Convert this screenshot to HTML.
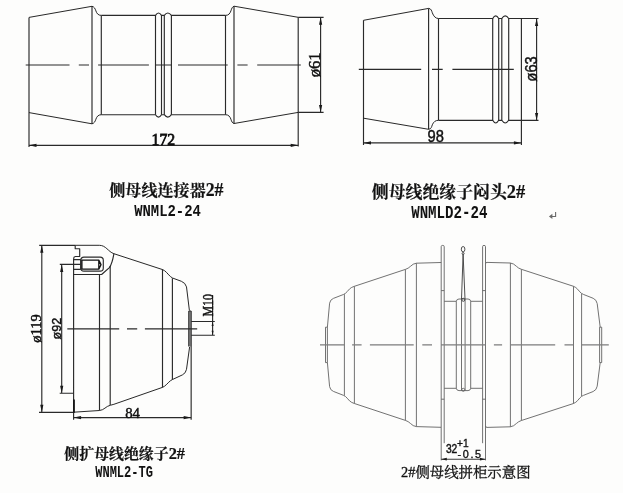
<!DOCTYPE html>
<html lang="zh-CN">
<head>
<meta charset="utf-8">
<title>侧母线连接器 / 绝缘子 尺寸图</title>
<style>
  html, body { margin: 0; padding: 0; background: #fdfdfc; }
  body { width: 623px; height: 493px; overflow: hidden; }
  svg { display: block; will-change: transform; }
  .ln  { fill: none; stroke: #2a2a2a; stroke-width: 1.15; stroke-linecap: butt; stroke-linejoin: round; }
  .ln .lo, .lo { stroke-width: 0.95; stroke: #1c1c1c; }
  .thin { fill: none; stroke: #3a3a3a; stroke-width: 0.8; }
  .lt  { fill: none; stroke: #626262; stroke-width: 0.9; stroke-linejoin: round; }
  .ar  { fill: #1a1a1a; stroke: none; }
  .cjkb { font-family: "Liberation Serif", "Noto Serif CJK SC", serif; font-weight: bold; fill: #111; stroke: #111; stroke-width: 0.2; }
  .cjkr { font-family: "Liberation Serif", "Noto Serif CJK SC", serif; font-weight: normal; fill: #111; stroke: #111; stroke-width: 0.3; }
  .monob { font-family: "Liberation Mono", monospace; font-weight: bold; fill: #111; }
  .sans { font-family: "Liberation Sans", sans-serif; fill: #111; stroke: #111; stroke-width: 0.45; }
  .serif { font-family: "Liberation Serif", serif; fill: #111; stroke: #111; stroke-width: 0.45; }
  .mono { font-family: "Liberation Mono", monospace; fill: #111; stroke: #111; stroke-width: 0.25; }
</style>
</head>
<body>
<svg width="623" height="493" viewBox="0 0 623 493">
  <rect x="0" y="0" width="623" height="493" fill="#fdfdfc"/>

  <!-- ============ 1. top-left : connector 172 ============ -->
  <g id="d1" class="ln">
    <!-- left cone -->
    <path d="M29,147 V17.4 M92,6.3 V123.8"/>
    <path class="lo" d="M29,17.4 L92,6.3 M29,112.6 L92,123.8"/>
    <path class="lo" d="M101.3,15.4 C98.1,15.4 96.7,13.3 95.9,10.9 C95.1,8.5 94,6.6 92,6.3"/>
    <path class="lo" d="M101.3,114.7 C98.1,114.7 96.7,116.8 95.9,119.2 C95.1,121.6 94,123.5 92,123.8"/>
    <!-- body -->
    <path d="M101.3,15.4 V114.7"/>
    <path d="M101.3,15.4 H155.5 Q158.5,10.6 161.5,15.4 H164.3 Q167.8,10.6 171.4,15.4 H225.5"/>
    <path d="M101.3,114.7 H155.5 Q158.5,119.5 161.5,114.7 H164.3 Q167.8,119.5 171.4,114.7 H225.5"/>
    <path d="M155.5,15.4 V114.7 M161.5,15.4 V114.7 M164.3,15.4 V114.7 M171.4,15.4 V114.7"/>
    <path d="M225.5,15.4 V114.7"/>
    <!-- right cone -->
    <path class="lo" d="M225.5,15.4 C228.7,15.4 230.1,13.3 230.9,10.9 C231.7,8.5 232.4,6.6 234,6.2"/>
    <path class="lo" d="M225.5,114.7 C228.7,114.7 230.1,116.8 230.9,119.2 C231.7,121.6 232.4,123.2 234,123.5"/>
    <path d="M234,6.2 V123.5 M298.2,17.3 V146.6"/>
    <path class="lo" d="M234,6.2 L298.2,17.3 M234,123.5 L298.2,112.4"/>
    <!-- dims -->
    <path d="M29,145.35 H298.2"/>
    <path d="M298.2,17.3 H323.6 M298.2,112.4 H323.6 M320.6,17.3 V112.4"/>
    <!-- centre line -->
    <path d="M25.7,65 H69.5 M78.8,65 H89 M98.1,65 H148.9 M155.5,65 H171.4 M178,65 H227.7 M237.4,65 H247.6 M257.2,65 H300.8"/>
  </g>
  <path class="ar" d="M29,145.35 l7.5,-1.6 v3.2 z M298.2,145.35 l-7.5,-1.6 v3.2 z"/>
  <path class="ar" d="M320.6,17.3 l-1.6,7.5 h3.2 z M320.6,112.4 l-1.6,-7.5 h3.2 z"/>
  <text class="serif" x="163.4" y="144.6" font-size="16.8" style="stroke-width:0.8" text-anchor="middle" textLength="23.6" lengthAdjust="spacingAndGlyphs">172</text>
  <text class="serif" transform="translate(320.2,64.8) rotate(-90)" font-size="16" text-anchor="middle" textLength="25" lengthAdjust="spacingAndGlyphs">ø61</text>
  <text class="cjkb" x="166.4" y="195.6" font-size="16.3" text-anchor="middle" textLength="114.2" lengthAdjust="spacingAndGlyphs">侧母线连接器<tspan font-size="18">2#</tspan></text>
  <text class="monob" x="167.5" y="215.5" font-size="17.4" text-anchor="middle" textLength="66.7" lengthAdjust="spacingAndGlyphs">WNML2-24</text>

  <!-- ============ 2. top-right : plug 98 ============ -->
  <g id="d2" class="ln">
    <path d="M363.5,145 V20.3 M428.6,8.4 V129.3"/>
    <path class="lo" d="M363.5,20.3 L428.6,8.4 M363.5,118.2 L428.6,129.3"/>
    <path class="lo" d="M428.6,8.4 C431.2,8.5 431.7,11 432.3,12.8 C433.6,16.2 435.5,18.5 438.5,18.5"/>
    <path class="lo" d="M428.6,129.3 C431.2,129.2 431.7,126.6 432.3,124.8 C433.6,121.8 435.5,120.3 438.5,120.3"/>
    <path d="M438.5,18.5 V120.3"/>
    <path d="M438.5,18.5 H492.7 Q495.7,13.2 498.7,18.5 H501.8 Q505.2,13.2 508.7,18.5 H538.5"/>
    <path d="M438.5,120.3 H492.7 Q495.7,125.6 498.7,120.3 H501.8 Q505.2,125.6 508.7,120.3 H538.5"/>
    <path d="M492.7,18.5 V120.3 M498.7,18.5 V120.3 M501.8,18.5 V120.3 M508.7,18.5 V120.3"/>
    <path d="M521.4,18.5 V145"/>
    <path d="M536.6,18.5 V120.3"/>
    <path d="M363.5,142.9 H521.4"/>
    <path d="M358.8,69.4 H421.2 M432,69.4 H442.7 M452.4,69.4 H513.8"/>
  </g>
  <path class="ar" d="M363.5,142.9 l7.5,-1.6 v3.2 z M521.4,142.9 l-7.5,-1.6 v3.2 z"/>
  <path class="ar" d="M536.6,18.5 l-1.6,7.5 h3.2 z M536.6,120.4 l-1.6,-7.5 h3.2 z"/>
  <text class="sans" x="435.8" y="142.4" font-size="16.6" text-anchor="middle" textLength="16.4" lengthAdjust="spacingAndGlyphs">98</text>
  <text class="sans" transform="translate(536.8,68.9) rotate(-90)" font-size="17.3" text-anchor="middle" textLength="25" lengthAdjust="spacingAndGlyphs">ø63</text>
  <text class="cjkb" x="448.5" y="197.5" font-size="17" text-anchor="middle" textLength="153.4" lengthAdjust="spacingAndGlyphs">侧母线绝缘子闷头<tspan font-size="18.6">2#</tspan></text>
  <text class="monob" x="449.3" y="217.7" font-size="18" text-anchor="middle" textLength="76.2" lengthAdjust="spacingAndGlyphs">WNMLD2-24</text>
  <g aria-label="paragraph mark"><path d="M555.6,211.9 V216.5 H551" fill="none" stroke="#6a6a6a" stroke-width="1.1"/><path d="M548.9,216.5 L552.4,213.8 L552.4,219.1 Z" fill="#6a6a6a"/></g>

  <!-- ============ 3. bottom-left : insulator 84 ============ -->
  <g id="d3" class="ln">
    <!-- outline top -->
    <path d="M39.2,245.3 H75.2"/>
    <path class="lo" d="M75.2,245.3 H99.3 C106,245.3 108,251.6 113.9,253.7 L162.6,269.6 Q164.6,270.4 166.4,272.3 L168.8,274.9 Q170.4,276.8 172.5,278 L181.4,281.3 Q185.4,282.8 186.5,286.9 L189.4,310.5"/>
    <!-- outline bottom -->
    <path d="M39,412.3 H73.6"/>
    <path class="lo" d="M73.6,412.2 L99.5,410.5 C104,410.2 106,406.2 110.2,405.3 L113.9,404.3 L162.4,387.4 Q164.4,386.6 166.2,384.8 L168.8,382.2 Q170.4,380.5 172.5,379.5 L182.4,374.9 Q185.8,373.3 186.5,369.3 L189.6,347"/>
    <!-- plate + stub -->
    <rect x="188.8" y="311" width="2.4" height="35.5" fill="#9a9a9a" stroke="none"/>
    <path d="M188.8,311 V346.5 M191.15,311 V419.7 M188.8,311 H191.15"/>
    <path d="M191.15,321.5 H214.8 M191.15,335.2 H214.8 M212.6,295 V335.2"/>
    <!-- verticals -->
    <path d="M73.6,258.6 V419.7 M99.5,274.5 V410.4 M110.2,266 V405 M162.5,269.2 V387.4 M172.4,278.2 V379.7"/>
    <!-- notch -->
    <path d="M75.2,245.3 V248.7 H79.7 V256.5 H75.4 Q73.6,256.7 73.6,258.8"/>
    <!-- hole -->
    <rect x="80.8" y="257.1" width="22.5" height="14" rx="3.2" ry="3.2"/>
    <path d="M73.6,259.6 H80.8 M73.6,269.3 H80.8 M80.8,259.6 V269.3"/>
    <path d="M73.6,274.5 H101.6 L109.4,267.6 C112,264 113,259 113.9,253.7"/>
    <!-- dims -->
    <path d="M41.8,245.3 V412.3"/>
    <path d="M59.8,264.4 H80.8 M59.7,393.2 H73.6 M61.7,264.4 V393.2"/>
    <path d="M73.6,417.6 H191.15"/>
    <!-- centre line -->
    <path d="M67.3,328.9 H119.2 M127,328.9 H137.2 M144.9,328.9 H197.2"/>
  </g>
  <path d="M81.9,260.1 H98.8 L101,264.6 L98.8,269.2 H81.9 Z M98.8,260.1 V269.2" fill="none" stroke="#111" stroke-width="1.3" stroke-linejoin="round"/>
  <path d="M74,399.6 V412.8" fill="none" stroke="#111" stroke-width="1.7"/>
  <path class="ar" d="M41.8,245.3 l-1.6,7.5 h3.2 z M41.8,412.3 l-1.6,-7.5 h3.2 z"/>
  <path class="ar" d="M61.7,264.4 l-1.6,7.5 h3.2 z M61.7,393.2 l-1.6,-7.5 h3.2 z"/>
  <path class="ar" d="M73.6,417.6 l7.5,-1.6 v3.2 z M191.15,417.6 l-7.5,-1.6 v3.2 z"/>
  <path class="ar" d="M212.6,321.5 l-1,4.4 h2 z M212.6,335.2 l-1,-4.4 h2 z"/>
  <text class="serif" transform="translate(41,328.5) rotate(-90)" font-size="14" text-anchor="middle" textLength="28.4" lengthAdjust="spacingAndGlyphs">ø119</text>
  <text class="sans" transform="translate(60.9,328.7) rotate(-90)" font-size="13" text-anchor="middle" textLength="21.6" lengthAdjust="spacingAndGlyphs">ø92</text>
  <text class="serif" x="132.6" y="417.7" font-size="15.2" text-anchor="middle" textLength="14.8" lengthAdjust="spacingAndGlyphs">84</text>
  <text class="serif" transform="translate(212.5,305.3) rotate(-90)" font-size="14" text-anchor="middle" textLength="22.4" lengthAdjust="spacingAndGlyphs">M10</text>
  <text class="cjkb" x="124.7" y="459" font-size="15.1" text-anchor="middle" textLength="120.7" lengthAdjust="spacingAndGlyphs">侧扩母线绝缘子<tspan font-size="16.6">2#</tspan></text>
  <text class="monob" x="124.1" y="477.4" font-size="16.5" text-anchor="middle" textLength="57.8" lengthAdjust="spacingAndGlyphs">WNML2-TG</text>

  <!-- ============ 4. bottom-right : assembly ============ -->
  <g id="d4" class="lt">
    <!-- left insulator -->
    <path d="M327.4,327.2 L329.6,303.2 Q330.2,299.6 333.4,298.4 L343.4,294.5 Q345.6,293.6 347.2,291.6 L349.6,288.9 Q351.4,287.2 354.4,286.3 L405.4,269.4 Q408.4,268.4 410.4,266.4 Q413,263.6 416.4,263.2 L441.2,262.5"/>
    <path d="M327.4,362.6 L329.6,386.6 Q330.2,390.2 333.4,391.4 L343.4,395.3 Q345.6,396.2 347.2,398.2 L349.6,400.9 Q351.4,402.6 354.4,403.5 L405.4,420.4 Q408.4,421.4 410.4,423.4 Q413,426.2 416.4,426.6 L441,427.3"/>
    <path d="M325.5,327.2 V362.6 M327.4,327.2 V362.6 M325.5,327.2 H327.4 M325.5,362.6 H327.4"/>
    <path d="M344.4,294.2 V395.6 M354.4,286.3 V403.5 M405.4,269.4 V420.4 M416.4,263.2 V426.6"/>
    <!-- right insulator -->
    <path d="M600.2,327.2 L597.2,303.6 Q596.6,299.8 593.2,298.3 L583.4,294.4 Q581.2,293.5 579.8,291.8 L577.6,289.2 Q576,287.3 573.5,286.3 L521.4,269.3 Q518.4,268.3 516.4,266.3 Q513.8,263.5 510.4,263 L487,262.4 Q485.7,262.5 485.6,263.6"/>
    <path d="M600.2,362.6 L597.2,386.2 Q596.6,390 593.2,391.5 L583.4,395.4 Q581.2,396.3 579.8,398 L577.6,400.6 Q576,402.5 573.5,403.5 L521.4,420.5 Q518.4,421.5 516.4,423.5 Q513.8,426.3 510.4,426.8 L487,427.4 Q485.7,427.3 485.6,426.2"/>
    <path d="M599.6,327.2 V362.6 M601.7,327.2 V362.6 M599.6,327.2 H601.7 M599.6,362.6 H601.7"/>
    <path d="M581.6,293.7 V396.1 M573.5,286.3 V403.5 M521.4,269.3 V420.5 M510.4,263 V426.8"/>
    <!-- panels -->
    <path d="M441.2,460.4 V246.6 Q441.2,245.4 442.7,245.4 Q444.2,245.4 444.2,246.6 V443.2"/>
    <path d="M485.5,460.4 V246.6 Q485.5,245.4 484,245.4 Q482.6,245.4 482.6,246.6 V443.2"/>
    <path d="M441.2,290.6 H444.2 M441.2,399.2 H444.2 M482.6,290.6 H485.5 M482.6,399.2 H485.5"/>
    <!-- connector -->
    <path d="M444.2,301.3 H456.3 Q456.6,299 459,299 H468 Q470.4,299 470.7,301.3 H482.5"/>
    <path d="M444.2,388.3 H456.3 Q456.6,390.6 459,390.6 H468 Q470.4,390.6 470.7,388.3 H482.5"/>
    <path d="M456.3,301.3 V388.3 M461.5,299 V390.6 M465.1,299 V390.6 M470.7,301.3 V388.3"/>
    <!-- needle -->
    <g stroke="#3a3a3a" stroke-width="0.9">
    <ellipse cx="463.1" cy="249.2" rx="1.8" ry="2.7"/>
    <circle cx="463.1" cy="253.5" r="1"/>
    <path d="M463.1,254.4 L461.5,299 M463.1,254.4 L465,299"/>
    <circle cx="463.3" cy="299.8" r="1.5"/>
    </g>
    <circle cx="463.3" cy="389.8" r="1.5"/>
    <!-- centre line -->
    <path stroke="#7c7c7c" stroke-width="1.4" d="M320,344.9 H344.4 M352.1,344.9 H361.6 M369.9,344.9 H413.7 M422.3,344.9 H432 M441,344.9 H485.5 M493.9,344.9 H502.1 M510.4,344.9 H555.2 M564.5,344.9 H573.5 M581.6,344.9 H608.8"/>
  </g>
  <path class="thin" d="M441.2,459.2 H485.5" style="stroke-width:1.1"/>
  <path class="ar" d="M441.2,459.2 l5.6,-1.4 v2.8 z M485.5,459.2 l-5.6,-1.4 v2.8 z"/>
  <text class="sans" x="451.6" y="452.9" font-size="12" text-anchor="middle" textLength="11.4" lengthAdjust="spacingAndGlyphs">32</text>
  <text class="sans" x="462.9" y="447.1" font-size="10.8" text-anchor="middle" textLength="11.6" lengthAdjust="spacingAndGlyphs" style="stroke-width:0.35">+1</text>
  <text class="sans" x="469.3" y="458.1" font-size="10.8" text-anchor="middle" textLength="23.6" lengthAdjust="spacing" style="stroke-width:0.35">-0.5</text>
  <text class="cjkr" x="465.8" y="476.7" font-size="13.9" text-anchor="middle" textLength="129.5" lengthAdjust="spacingAndGlyphs">2#侧母线拼柜示意图</text>
</svg>
</body>
</html>
